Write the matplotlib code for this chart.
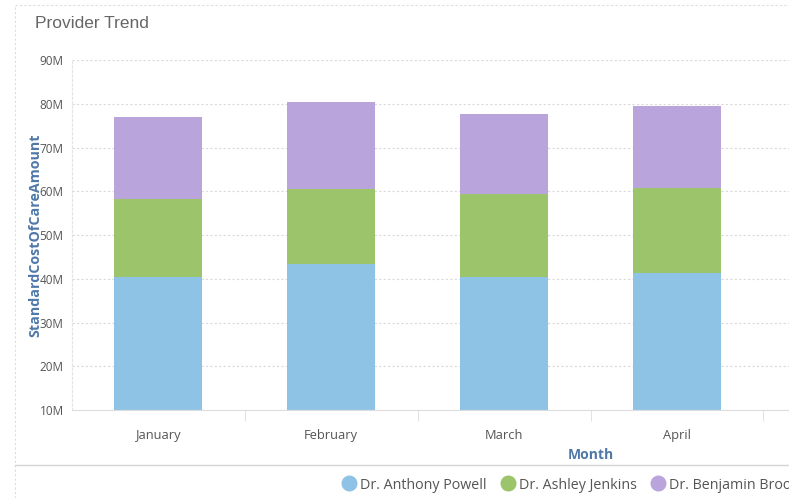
import matplotlib.pyplot as plt
from matplotlib.lines import Line2D
import numpy as np

# ============ Data ============
months = ["January", "February", "March", "April"]
providers = ["Dr. Anthony Powell", "Dr. Ashley Jenkins", "Dr. Benjamin Brooks"]
# values in millions, stacked
anthony = [40.4, 43.3, 40.4, 41.3]
ashley = [17.8, 17.2, 19.0, 19.4]
benjamin = [18.8, 19.9, 18.3, 18.8]
colors = ["#8EC3E6", "#9CC46A", "#B9A4DC"]
y_ticks = [10, 20, 30, 40, 50, 60, 70, 80, 90]

# ============ Figure ============
fig = plt.figure(figsize=(7.89, 4.98), dpi=100)
# plot area is wider than the card: it has room for six months
ax = fig.add_axes([72 / 789, 88 / 498, 1037 / 789, 350 / 498])

x = np.arange(len(months))
bottom = np.zeros(len(months))
for vals, col in zip([anthony, ashley, benjamin], colors):
    ax.bar(x, vals, width=0.51, bottom=bottom, color=col, zorder=2)
    bottom += np.array(vals)

ax.set_xlim(-0.5, 5.5)
ax.set_ylim(10, 90)
ax.set_yticks(y_ticks)
ax.set_yticklabels([f"{v}M" for v in y_ticks])
ax.set_xticks(x)
ax.set_xticklabels(months)
ax.set_xticks(np.arange(0.5, 6, 1), minor=True)
ax.tick_params(axis="x", which="major", length=0, pad=14, labelsize=9.3, labelcolor="#555555")
ax.tick_params(axis="x", which="minor", length=8, color="#dddddd", direction="out")
ax.tick_params(axis="y", length=0, pad=6, labelsize=8.5, labelcolor="#555555")
for lbl in ax.get_xticklabels() + ax.get_yticklabels():
    lbl.set_family("Open Sans")

ax.grid(axis="y", linestyle=(0, (2, 2)), color="#d9d9d9", linewidth=0.8, zorder=0)
for s in ["top", "right"]:
    ax.spines[s].set_visible(False)
ax.spines["left"].set_color("#e3e3e3")
ax.spines["left"].set_linestyle((0, (2, 2)))
ax.spines["bottom"].set_color("#dddddd")

ax.set_ylabel("StandardCostOfCareAmount", family="Open Sans", fontsize=10.3,
              fontweight="bold", color="#4F78A8")
ax.set_xlabel("Month", family="Open Sans", fontsize=10, fontweight="bold",
              color="#4F78A8", labelpad=4)
ax.yaxis.set_label_coords((42 - 72) / 1037, 0.5)

fig.text(35 / 789, 1 - 23 / 498, "Provider Trend", family="Liberation Sans",
         fontsize=12.5, color="#666666", va="center", ha="left")

# card frame
fig.add_artist(Line2D([15 / 789, 15 / 789], [0, 1 - 5 / 498], color="#dddddd",
                      lw=0.8, linestyle=(0, (2, 2))))
fig.add_artist(Line2D([15 / 789, 1], [1 - 5 / 498, 1 - 5 / 498], color="#dddddd",
                      lw=0.8, linestyle=(0, (2, 2))))
fig.add_artist(Line2D([15 / 789, 1], [1 - 465 / 498, 1 - 465 / 498], color="#d5d5d5", lw=1))

handles = [Line2D([], [], marker="o", linestyle="none", markersize=10.5,
                  markerfacecolor=c, markeredgecolor=c) for c in colors]
leg = fig.legend(handles, providers, loc="center left",
                 bbox_to_anchor=(336 / 789, 1 - 485 / 498), ncol=3, frameon=False,
                 handletextpad=0.3, columnspacing=0.95, borderaxespad=0, handlelength=1.0,
                 prop={"family": "Open Sans", "size": 10.3})
for t in leg.get_texts():
    t.set_color("#555555")

fig.savefig("out.png", dpi=100)
